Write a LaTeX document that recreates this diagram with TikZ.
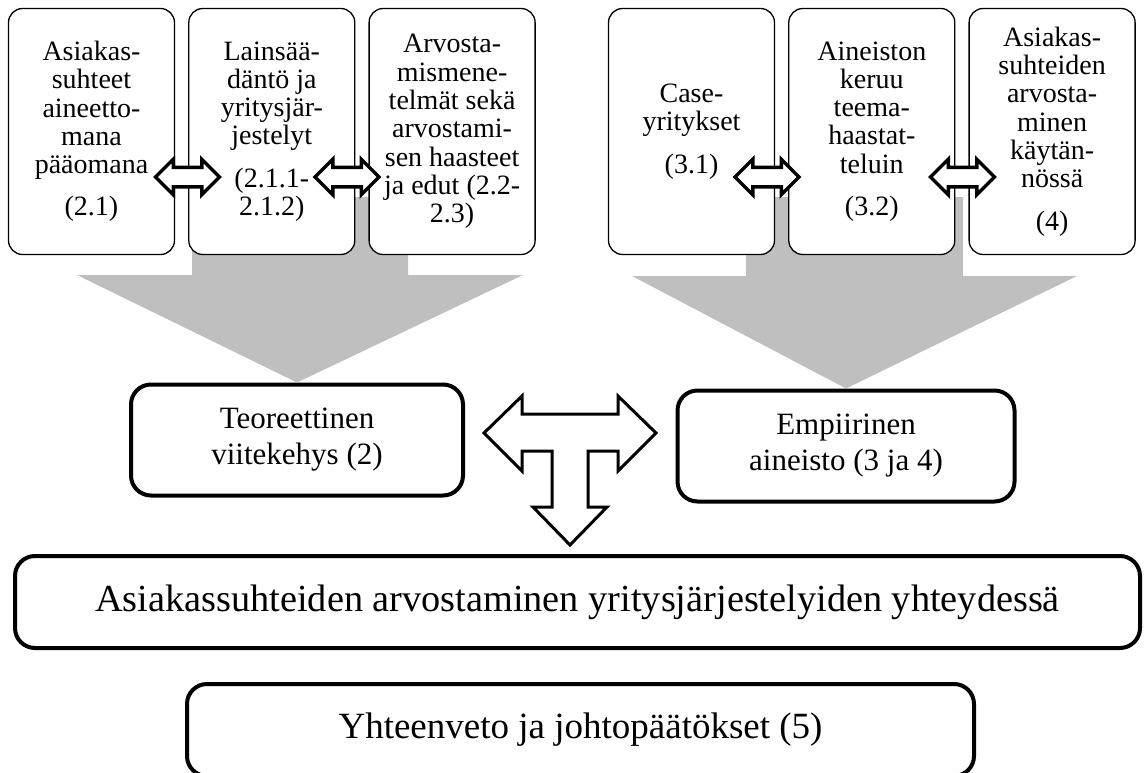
\documentclass[tikz,border=0pt]{standalone}
\usepackage{fontspec}
\setmainfont{Liberation Serif}
\usepackage{xcolor}
\usetikzlibrary{arrows.meta}
\usetikzlibrary{positioning, shapes.arrows}

\definecolor{arrowgray}{RGB}{191,191,191}

\tikzset{
  topbox/.style={draw, fill=white, rounded corners=14pt, line width=1.3pt,
    minimum width=166pt, minimum height=246pt, inner sep=0pt, align=center,
    font=\fontsize{28}{28.3}\selectfont},
  midbox/.style={draw, fill=white, rounded corners=20pt, line width=4pt,
    minimum height=111pt, inner sep=0pt, align=center,
    font=\fontsize{31}{36}\selectfont},
  lowbox/.style={draw, fill=white, rounded corners=20pt, line width=4pt,
    minimum height=92pt, inner sep=0pt, align=center,
    font=\fontsize{37}{40}\selectfont},
  dblarrow/.style={draw, fill=white, line width=3.5pt, double arrow,
    double arrow head extend=8pt, inner sep=8pt, minimum height=64pt},
  bigarrow/.style={fill=arrowgray},
  tarrow/.style={draw, fill=white, line width=3pt, line join=miter},
}

\begin{document}
\begin{tikzpicture}[x=1pt, y=-1pt]
        \useasboundingbox (0,0) rectangle (1145,773);
        \clip (0,0) rectangle (1145,773);

        % middle level
        \node[midbox, minimum width=332pt] (teo) at (297,440) {Teoreettinen\\viitekehys (2)};
        \node[midbox, minimum width=337pt] (emp) at (846,446) {Empiirinen\\aineisto (3 ja 4)};

        % gray block arrows behind the upper boxes
        \fill[bigarrow] (192,197) -- (408,197) -- (408,275) -- (523,275) -- (teo.north)
            -- (77,275) -- (192,275) -- cycle;
        \fill[bigarrow] (746,197) -- (963,197) -- (963,276) -- (1077,276) -- (emp.north)
            -- (632,276) -- (746,276) -- cycle;

        % theory
        \node[topbox] (asia) at (91.5,131.5) {Asiakas-\\suhteet\\aineetto-\\mana\\pääomana\\[14pt](2.1)};
        \node[topbox, right=13pt of asia] (lain) {Lainsää-\\däntö ja\\yritysjär-\\jestelyt\\[14pt](2.1.1-\\2.1.2)};
        \node[topbox, right=13pt of lain] (arvo) {Arvosta-\\mismene-\\telmät sekä\\arvostami-\\sen haasteet\\ja edut (2.2-\\2.3)};

        % empirics
        \node[topbox] (case) at (691.5,131.5) {Case-\\yritykset\\[14pt](3.1)};
        \node[topbox, right=13pt of case] (keruu) {Aineiston\\keruu\\teema-\\haastat-\\teluin\\[14pt](3.2)};
        \node[topbox, right=13pt of keruu] (kayt) {Asiakas-\\suhteiden\\arvosta-\\minen\\käytän-\\nössä\\[14pt](4)};

        \node[dblarrow] (a1) at (187.5,177) {};
        \node[dblarrow] (a2) at (347,177) {};
        \node[dblarrow] (a3) at (767,177) {};
        \node[dblarrow] (a4) at (962.5,177) {};

        % T-shaped arrow
        \draw[tarrow, shift={(570,433)}] (-86,0) -- (-48,-37) -- (-48,-19) -- (48,-19) -- (48,-37)
            -- (86,0) -- (48,38) -- (48,18) -- (18,18) -- (18,74) -- (37,74) -- (0,112)
            -- (-37,74) -- (-18,74) -- (-18,18) -- (-48,18) -- (-48,38) -- cycle;

        % lower level
        \node[lowbox, minimum width=1125pt, font=\fontsize{38.3}{40}\selectfont] (tulos) at (577.5,602) {Asiakassuhteiden arvostaminen yritysjärjestelyiden yhteydessä};
        \node[lowbox, minimum width=787pt] (yht) at (580.5,730) {Yhteenveto ja johtopäätökset (5)};
\end{tikzpicture}
\end{document}
